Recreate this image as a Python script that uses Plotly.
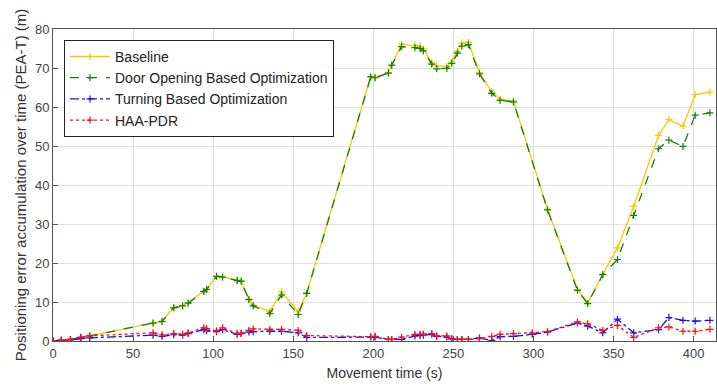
import plotly.graph_objects as go

time_base = [0, 5.2, 10.9, 17.3, 22.9, 62.5, 68.1, 75.4, 80.9, 84.4, 94.2, 95.9, 102.1, 105.9,
             115.0, 117.5, 122.3, 125.0, 135.4, 142.7, 153.1, 158.4, 198.4, 201.1, 209.4, 211.5,
             217.7, 226.0, 229.2, 231.3, 236.5, 239.6, 245.9, 249.0, 252.5, 255.3, 259.4, 266.3,
             274.0, 279.2, 287.5, 308.8, 327.5, 333.9, 343.3, 352.5, 362.6, 378.1, 384.6,
             393.4, 401.0, 410.2]

baseline = [0, 0.2, 0.4, 0.9, 1.3, 4.6, 5.1, 8.6, 9.1, 9.8, 12.8, 13.3, 16.6, 16.4,
            15.6, 15.4, 10.8, 9.2, 7.6, 12.6, 7.5, 12.3, 67.8, 67.6, 68.8, 70.8,
            76.1, 75.8, 75.5, 74.9, 71.3, 70.5, 70.4, 71.6, 74.2, 76.4, 76.6, 68.8,
            63.8, 62.0, 61.6, 33.8, 13.2, 9.7, 17.1, 23.9, 34.5, 52.7, 56.8,
            55.1, 63.2, 63.8]

door = [0, 0.2, 0.4, 0.9, 1.3, 4.6, 5.0, 8.5, 9.0, 9.7, 12.7, 13.2, 16.6, 16.4,
        15.5, 15.3, 10.6, 9.0, 7.0, 11.8, 6.8, 12.2, 67.7, 67.5, 68.7, 70.7,
        75.5, 75.2, 75.0, 74.4, 71.0, 69.8, 69.9, 71.2, 73.8, 75.6, 76.0, 68.5,
        63.5, 61.7, 61.3, 33.6, 13.0, 9.6, 17.0, 20.9, 32.2, 49.3, 51.5,
        49.9, 57.9, 58.5]

time_low = [0, 5.2, 10.9, 17.3, 22.9, 62.5, 68.1, 75.4, 80.9, 84.4, 94.2, 95.9, 102.1, 105.9,
            115.0, 117.5, 122.3, 125.0, 135.4, 142.7, 153.1, 158.4, 198.4, 201.1, 209.4, 211.5,
            217.7, 226.0, 229.2, 231.3, 236.5, 239.6, 245.9, 249.0, 252.5, 255.3, 259.4, 266.3,
            274.0, 279.2, 287.5, 299.3, 308.8, 327.5, 333.9, 343.3, 352.5, 362.6, 378.1, 384.6,
            393.4, 401.0, 410.2]

turning = [0, 0.1, 0.3, 0.6, 0.8, 1.5, 1.2, 1.6, 1.5, 1.9, 2.9, 2.6, 2.4, 2.9,
           1.7, 1.9, 2.3, 2.4, 2.5, 2.5, 2.1, 0.9, 1.0, 1.0, 0.4, 0.4,
           0.4, 1.3, 1.4, 1.5, 1.7, 1.2, 1.0, 0.5, 0.4, 0.4, 0.4, 0.8,
           0.1, 1.1, 1.2, 1.7, 2.3, 4.6, 3.8, 2.1, 5.6, 2.1, 2.9, 6.0,
           5.3, 5.1, 5.3]

haa_pdr = [0, 0.2, 0.4, 1.0, 1.3, 2.1, 1.6, 1.9, 1.7, 2.1, 3.4, 3.2, 2.6, 3.4,
           1.9, 2.0, 2.7, 3.1, 3.0, 3.0, 2.7, 1.4, 1.1, 1.2, 0.4, 0.4,
           1.0, 1.7, 1.7, 1.8, 1.9, 1.3, 1.3, 0.6, 0.4, 0.4, 0.4, 0.6,
           1.2, 1.7, 1.9, 2.1, 2.4, 4.9, 4.4, 2.7, 4.0, 0.9, 3.4, 3.6,
           2.5, 2.5, 3.0]

x_ticks = [0, 50, 100, 150, 200, 250, 300, 350, 400]
y_ticks = [0, 10, 20, 30, 40, 50, 60, 70, 80]

series = [
    ("Baseline", time_base, baseline, "#F7C800", "solid"),
    ("Door Opening Based Optimization", time_base, door, "#108010", "dash"),
    ("Turning Based Optimization", time_low, turning, "#1010FF", "dashdot"),
    ("HAA-PDR", time_low, haa_pdr, "#FF1010", "dot"),
]

fig = go.Figure()
for name, xs, vals, col, dash in series:
    fig.add_trace(go.Scatter(
        x=xs, y=vals, name=name, mode="lines+markers",
        line=dict(color=col, width=1.3, dash=dash),
        marker=dict(symbol="cross-thin", size=5, line=dict(color=col, width=1.2), color=col),
    ))

font_family = "Liberation Sans, Arial, sans-serif"
axis_common = dict(
    showline=True, linecolor="#555555", linewidth=1, mirror=True,
    ticks="inside", ticklen=5, tickcolor="#555555",
    showgrid=True, gridcolor="#E0E0E0", gridwidth=1, zeroline=False,
    tickfont=dict(family=font_family, size=13, color="#444444"),
)

fig.update_layout(
    width=717, height=388,
    margin=dict(l=53, r=1, t=29, b=47),
    paper_bgcolor="white", plot_bgcolor="white",
    font=dict(family=font_family, size=13, color="#333333"),
    xaxis=dict(range=[0, 414], tickvals=x_ticks,
               title=dict(text="Movement time (s)", standoff=8,
                          font=dict(family=font_family, size=14, color="#333333")),
               **axis_common),
    yaxis=dict(range=[0, 80], tickvals=y_ticks,
               title=dict(text="Positioning error accumulation over time (PEA-T) (m)", standoff=4,
                          font=dict(family=font_family, size=15, color="#333333")),
               **axis_common),
    legend=dict(x=0.0166, y=0.965, xanchor="left", yanchor="top",
                bgcolor="white", bordercolor="#222222", borderwidth=1,
                font=dict(family=font_family, size=14, color="#222222"),
                tracegroupgap=0, itemwidth=40),
    showlegend=True,
)

fig.write_html("out.html")
